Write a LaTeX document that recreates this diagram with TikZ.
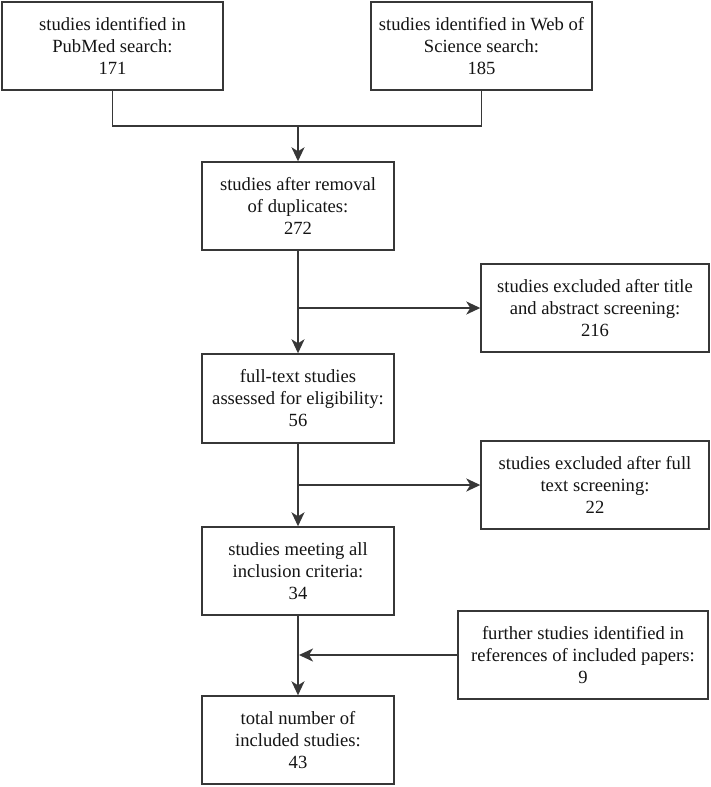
\documentclass[tikz,border=0pt]{standalone}
\usepackage{fontspec}
\setmainfont{Liberation Serif}
\usetikzlibrary{arrows.meta}
\definecolor{ln}{RGB}{55,55,55}
\definecolor{tx}{RGB}{20,20,20}
\tikzset{
  box/.style={draw=ln, line width=1.4pt, fill=white, align=center, text=tx,
    font=\rmfamily\fontsize{18.6}{22}\selectfont, inner sep=0pt},
  conn/.style={draw=ln, line width=1.8pt},
  arr/.style={conn, -{Stealth[length=14pt,width=13pt,inset=4pt]}}
}
\begin{document}
\begin{tikzpicture}[x=1pt,y=-1pt]
\useasboundingbox (0,0) rectangle (711,787);
\node[box, minimum width=221pt, minimum height=88pt] (b1) at (112.5,46) {studies identified in\\PubMed search:\\171};
\node[box, minimum width=221pt, minimum height=88pt] (b2) at (481.5,46) {studies identified in Web of\\Science search:\\185};
\node[box, minimum width=192pt, minimum height=88pt] (b3) at (298,206) {studies after removal\\of duplicates:\\272};
\node[box, minimum width=228pt, minimum height=88pt] (b4) at (595,308) {studies excluded after title\\and abstract screening:\\216};
\node[box, minimum width=192pt, minimum height=89pt] (b5) at (298,398.5) {full-text studies\\assessed for eligibility:\\56};
\node[box, minimum width=228pt, minimum height=88pt] (b6) at (595,485) {studies excluded after full\\text screening:\\22};
\node[box, minimum width=192pt, minimum height=88pt] (b7) at (298,571) {studies meeting all\\inclusion criteria:\\34};
\node[box, minimum width=250pt, minimum height=88pt] (b8) at (583,655) {further studies identified in\\references of included papers:\\9};
\node[box, minimum width=192pt, minimum height=88pt] (b9) at (298,740) {total number of\\included studies:\\43};
\coordinate (j1) at (298,126);
\coordinate (j2) at (b3.south |- b4.west);
\coordinate (j3) at (b5.south |- b6.west);
\coordinate (j4) at (b7.south |- b8.west);
\draw[conn] (b1.south) |- (j1) -| (b2.south);
\draw[arr] (j1) -- (b3.north);
\draw[arr] (b3.south) -- (b5.north);
\draw[arr] (j2) -- (b4.west);
\draw[arr] (b5.south) -- (b7.north);
\draw[arr] (j3) -- (b6.west);
\draw[arr] (b7.south) -- (b9.north);
\draw[arr, shorten >=1pt] (b8.west) -- (j4);
\end{tikzpicture}
\end{document}
